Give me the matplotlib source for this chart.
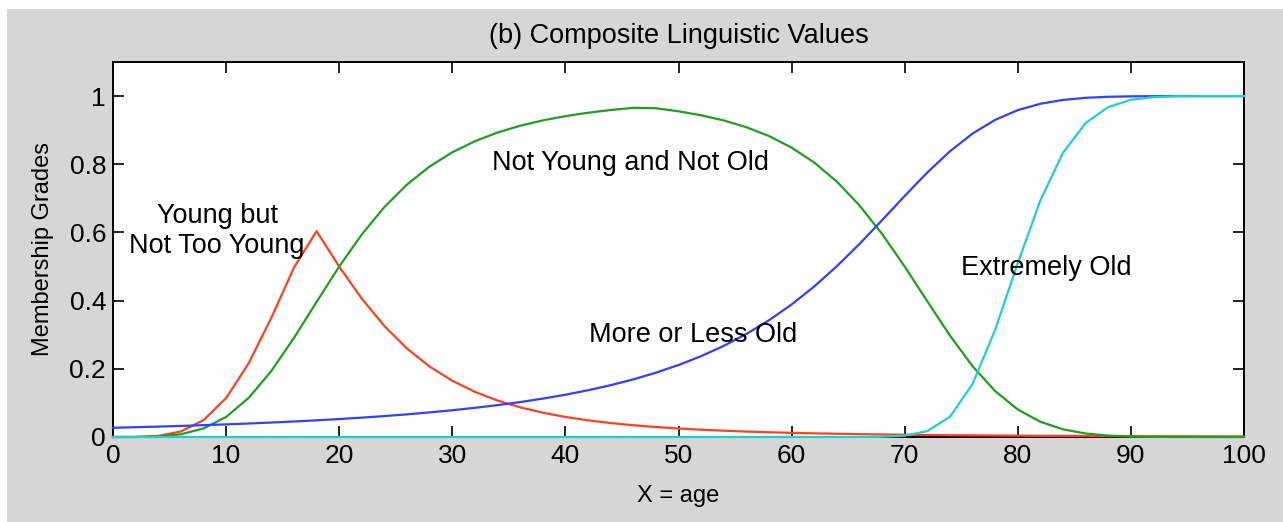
import matplotlib.pyplot as plt
from matplotlib.patches import Rectangle

plt.rcParams['font.family'] = ['Liberation Sans', 'DejaVu Sans']

# age axis, sampled every 2 years
age = list(range(0, 101, 2))

young_not_too_young = [
    0.0, 0.0002, 0.0032, 0.0160, 0.0493, 0.1142, 0.2163, 0.3497, 0.4967, 0.6038,
    0.5, 0.4058, 0.3254, 0.2593, 0.2065, 0.1650, 0.1324, 0.1069, 0.0870, 0.0713,
    0.0588, 0.0489, 0.0409, 0.0345, 0.0293, 0.0250, 0.0214, 0.0185, 0.0160, 0.0139,
    0.0122, 0.0107, 0.0095, 0.0084, 0.0074, 0.0066, 0.0059, 0.0053, 0.0048, 0.0043,
    0.0039, 0.0035, 0.0032, 0.0029, 0.0027, 0.0024, 0.0022, 0.0020, 0.0019, 0.0017,
    0.0016,
]

not_young_not_old = [
    0.0, 0.0001, 0.0016, 0.0080, 0.0250, 0.0588, 0.1147, 0.1936, 0.2906, 0.3962,
    0.5, 0.5942, 0.6747, 0.7407, 0.7935, 0.8351, 0.8676, 0.8931, 0.9130, 0.9287,
    0.9412, 0.9511, 0.9591, 0.9655, 0.9644, 0.9554, 0.9437, 0.9286, 0.9087, 0.8828,
    0.8489, 0.8051, 0.7491, 0.6794, 0.5956, 0.5, 0.3980, 0.2976, 0.2077, 0.1346,
    0.0807, 0.0446, 0.0225, 0.0102, 0.0041, 0.0014, 0.0004, 0.0001, 0.0, 0.0,
    0.0,
]

more_or_less_old = [
    0.0270, 0.0287, 0.0305, 0.0325, 0.0347, 0.0370, 0.0396, 0.0424, 0.0455, 0.0489,
    0.0527, 0.0568, 0.0614, 0.0665, 0.0722, 0.0785, 0.0856, 0.0935, 0.1025, 0.1126,
    0.1240, 0.1371, 0.1520, 0.1690, 0.1886, 0.2111, 0.2372, 0.2673, 0.3022, 0.3424,
    0.3887, 0.4415, 0.5009, 0.5662, 0.6359, 0.7071, 0.7759, 0.8381, 0.8901, 0.9303,
    0.9588, 0.9775, 0.9887, 0.9949, 0.9980, 0.9993, 0.9998, 1.0, 1.0, 1.0,
    1.0,
]

extremely_old = [
    0.0, 0.0, 0.0, 0.0, 0.0, 0.0, 0.0, 0.0, 0.0, 0.0,
    0.0, 0.0, 0.0, 0.0, 0.0, 0.0, 0.0, 0.0, 0.0, 0.0,
    0.0, 0.0, 0.0, 0.0, 0.0, 0.0, 0.0, 0.0, 0.0, 0.0,
    0.0, 0.0, 0.0, 0.0001, 0.0007, 0.0039, 0.0173, 0.0592, 0.1553, 0.3146,
    0.5101, 0.6943, 0.8336, 0.9211, 0.9678, 0.9891, 0.9971, 0.9995, 1.0, 1.0,
    1.0,
]

fig = plt.figure(figsize=(12.83, 5.22), dpi=100, facecolor='white')
fig.patches.append(Rectangle((7 / 1283, 0), 1 - 7 / 1283, 1 - 9 / 522,
                             transform=fig.transFigure, facecolor='#d6d6d6',
                             edgecolor='none', zorder=-10))

ax = fig.add_axes([113 / 1283, 1 - 437 / 522, (1244 - 113) / 1283, (437 - 62) / 522])
ax.set_facecolor('white')

lw = 1.6
ax.plot(age, young_not_too_young, color='#ff4020', lw=lw, zorder=3, clip_on=False)
ax.plot(age, not_young_not_old, color='#1f9f1f', lw=lw, zorder=3, clip_on=False)
ax.plot(age, more_or_less_old, color='#3040ff', lw=lw, zorder=3, clip_on=False)
ax.plot(age, extremely_old, color='#20d0d0', lw=lw, zorder=3, clip_on=False)

ax.set_xlim(0, 100)
ax.set_ylim(0, 1.1)
ax.set_xticks(range(0, 101, 10))
ax.set_yticks([0, 0.2, 0.4, 0.6, 0.8, 1])
ax.set_yticklabels(['0', '0.2', '0.4', '0.6', '0.8', '1'])
ax.tick_params(direction='in', length=8, width=1.2, top=True, right=True,
               labelsize=19, pad=5)
for s in ax.spines.values():
    s.set_linewidth(1.4)

fs = 19.5
ax.text(9.2, 0.605, 'Young but\nNot Too Young', ha='center', va='center',
        fontsize=fs)
ax.text(45.8, 0.803, 'Not Young and Not Old', ha='center', va='center', fontsize=fs)
ax.text(51.3, 0.299, 'More or Less Old', ha='center', va='center', fontsize=fs)
ax.text(82.5, 0.496, 'Extremely Old', ha='center', va='center', fontsize=fs)

ax.set_title('(b) Composite Linguistic Values', fontsize=fs, pad=14)
ax.set_xlabel('X = age', fontsize=17, labelpad=12)
ax.set_ylabel('Membership Grades', fontsize=17, labelpad=11)

fig.savefig('out.png', dpi=100, facecolor=fig.get_facecolor())
